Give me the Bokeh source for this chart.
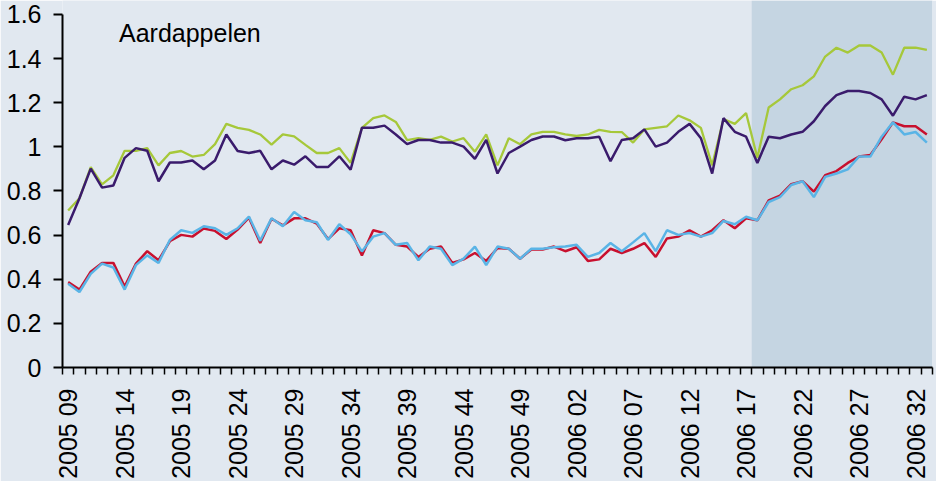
import math
from bokeh.plotting import figure
from bokeh.models import Range1d, FixedTicker, BoxAnnotation, Label
from bokeh.embed import file_html
from bokeh.resources import INLINE

# ---- categories (year week) ----
weeks = [f"2005 {w:02d}" for w in range(9, 53)] + [f"2006 {w:02d}" for w in range(1, 34)]
forecast_start = "2006 18"

# ---- series values ----
series_green = [0.711, 0.767, 0.908, 0.830, 0.871, 0.982, 0.982, 0.994, 0.916, 0.972,
                0.981, 0.956, 0.963, 1.012, 1.104, 1.086, 1.077, 1.056, 1.010, 1.056,
                1.047, 1.009, 0.972, 0.972, 0.994, 0.927, 1.086, 1.130, 1.142, 1.113,
                1.030, 1.039, 1.031, 1.046, 1.024, 1.039, 0.978, 1.056, 0.916, 1.039,
                1.012, 1.056, 1.068, 1.068, 1.056, 1.049, 1.056, 1.077, 1.068, 1.067,
                1.019, 1.079, 1.086, 1.093, 1.142, 1.120, 1.086, 0.916, 1.126, 1.104,
                1.153, 0.950, 1.178, 1.215, 1.261, 1.279, 1.319, 1.409, 1.449, 1.427,
                1.459, 1.459, 1.427, 1.327, 1.449, 1.449, 1.439]
series_purple = [0.646, 0.767, 0.901, 0.815, 0.825, 0.950, 0.994, 0.982, 0.844, 0.929,
                 0.929, 0.938, 0.898, 0.938, 1.056, 0.981, 0.972, 0.982, 0.898, 0.938,
                 0.919, 0.957, 0.908, 0.908, 0.957, 0.896, 1.086, 1.086, 1.096, 1.056,
                 1.012, 1.031, 1.031, 1.019, 1.019, 1.001, 0.945, 1.031, 0.879, 0.972,
                 1.001, 1.031, 1.047, 1.047, 1.030, 1.039, 1.039, 1.046, 0.935, 1.031,
                 1.039, 1.079, 1.001, 1.019, 1.068, 1.104, 1.039, 0.879, 1.130, 1.068,
                 1.046, 0.927, 1.046, 1.039, 1.056, 1.068, 1.116, 1.185, 1.234, 1.253,
                 1.253, 1.244, 1.215, 1.141, 1.227, 1.215, 1.234]
series_red = [0.387, 0.353, 0.434, 0.474, 0.474, 0.367, 0.471, 0.527, 0.486, 0.572,
              0.601, 0.593, 0.630, 0.619, 0.582, 0.625, 0.679, 0.564, 0.674, 0.644,
              0.676, 0.676, 0.652, 0.582, 0.631, 0.622, 0.508, 0.622, 0.609, 0.556,
              0.548, 0.501, 0.538, 0.548, 0.474, 0.490, 0.519, 0.483, 0.541, 0.538,
              0.493, 0.535, 0.535, 0.548, 0.527, 0.545, 0.483, 0.490, 0.538, 0.519,
              0.538, 0.564, 0.501, 0.585, 0.593, 0.622, 0.593, 0.622, 0.667, 0.631,
              0.676, 0.667, 0.757, 0.779, 0.831, 0.844, 0.797, 0.871, 0.890, 0.927,
              0.956, 0.963, 1.034, 1.111, 1.093, 1.093, 1.056]
series_blue = [0.379, 0.342, 0.424, 0.471, 0.453, 0.353, 0.464, 0.508, 0.474, 0.578,
               0.622, 0.610, 0.640, 0.631, 0.601, 0.631, 0.684, 0.575, 0.676, 0.640,
               0.705, 0.667, 0.658, 0.578, 0.649, 0.604, 0.526, 0.593, 0.609, 0.556,
               0.564, 0.486, 0.548, 0.538, 0.464, 0.493, 0.548, 0.464, 0.548, 0.538,
               0.493, 0.538, 0.538, 0.545, 0.548, 0.556, 0.501, 0.519, 0.564, 0.527,
               0.567, 0.609, 0.527, 0.622, 0.601, 0.609, 0.593, 0.609, 0.664, 0.649,
               0.683, 0.667, 0.750, 0.772, 0.827, 0.844, 0.772, 0.864, 0.879, 0.898,
               0.956, 0.956, 1.046, 1.111, 1.056, 1.067, 1.019]

y_ticks = [0, 0.2, 0.4, 0.6, 0.8, 1, 1.2, 1.4, 1.6]
title_text = "Aardappelen"

# ---- styling ----
BG = "#e1e8f0"
SHADE = "#c5d5e2"
FONT = "Liberation Sans"
FS = "25px"

n = len(weeks)
xs = list(range(n))

p = figure(width=936, height=481, output_backend="svg", toolbar_location=None,
           x_range=Range1d(-0.5, n - 0.5), y_range=Range1d(0, 1.663),
           min_border_left=62, min_border_right=4, min_border_top=0, min_border_bottom=110)
p.background_fill_color = BG
p.border_fill_color = BG
p.outline_line_color = None
p.grid.visible = False

shade = BoxAnnotation(left=weeks.index(forecast_start) - 0.5, fill_color=SHADE, fill_alpha=1.0,
                      line_alpha=0, level="underlay")
p.add_layout(shade)

p.line(xs, series_green, line_color="#a6c83a", line_width=2.3)
p.line(xs, series_purple, line_color="#3a1b6c", line_width=2.5)
p.line(xs, series_red, line_color="#c8102e", line_width=2.5)
p.line(xs, series_blue, line_color="#5ab4e6", line_width=2.5)

# x axis
label_idx = list(range(0, n, 5))
xa = p.xaxis[0]
xa.ticker = FixedTicker(ticks=label_idx, minor_ticks=[i - 0.5 for i in range(n + 1)])
xa.major_label_overrides = {i: weeks[i] for i in label_idx}
xa.major_label_orientation = math.pi / 2
xa.major_tick_out = 0
xa.major_tick_in = 0
xa.minor_tick_out = 7
xa.minor_tick_in = 0
xa.minor_tick_line_color = "black"
xa.minor_tick_line_width = 1.5
xa.axis_line_color = "black"
xa.axis_line_width = 2
xa.major_label_standoff = 14
xa.major_label_text_font = FONT
xa.major_label_text_font_size = FS
xa.major_label_text_color = "black"

# y axis
ya = p.yaxis[0]
ya.ticker = FixedTicker(ticks=y_ticks)
ya.major_label_overrides = {t: f"{t:g}" for t in y_ticks}
ya.bounds = (0, 1.6)
ya.major_tick_out = 9
ya.major_tick_in = 0
ya.minor_tick_out = 0
ya.minor_tick_in = 0
ya.major_tick_line_color = "black"
ya.major_tick_line_width = 2
ya.axis_line_color = "black"
ya.axis_line_width = 2
ya.major_label_standoff = 12
ya.major_label_text_font = FONT
ya.major_label_text_font_size = FS
ya.major_label_text_color = "black"

p.add_layout(Label(x=4.5, y=1.517, text=title_text, text_font=FONT, text_font_size=FS,
                   text_color="black", text_baseline="alphabetic"))

open("out.html", "w").write(file_html(p, INLINE))
